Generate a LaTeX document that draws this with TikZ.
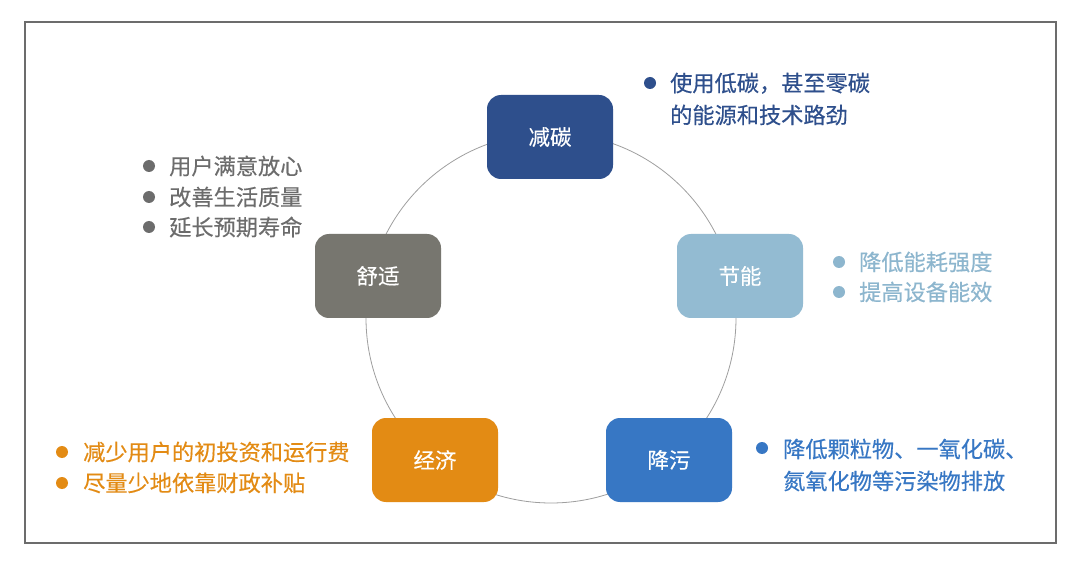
\documentclass[tikz,border=0pt]{standalone}
\usepackage{fontspec}
\setmainfont[FakeBold=0.35]{Noto Sans CJK SC}
\definecolor{cDark}{HTML}{2E4F8C}
\definecolor{cLight}{HTML}{93BBD2}
\definecolor{cLightT}{HTML}{8DB6CE}
\definecolor{cMid}{HTML}{3777C4}
\definecolor{cOrange}{HTML}{E38B14}
\definecolor{cGray}{HTML}{77766F}
\definecolor{cGrayT}{HTML}{6C6C6C}
\tikzset{
  box/.style={rounded corners=14pt, minimum width=126pt, minimum height=84pt, inner sep=0pt,
    text=white, font=\fontsize{21.5}{26}\selectfont},
  lbl/.style={anchor=west, inner sep=0pt, align=left, font=\fontsize{22.2}{32}\selectfont},
  dot/.style={circle, inner sep=0pt, minimum size=12pt},
}
\begin{document}
\begin{tikzpicture}[x=1pt,y=-1pt]
\useasboundingbox (0,0) rectangle (1080,572);
\fill[white] (0,0) rectangle (1080,572);
\draw[line width=1.5pt, draw=gray!85!black] (25,22) rectangle (1056,543);
\draw[line width=0.8pt, draw=gray!75] (551,318) circle (185);
% nodes
\node[box, fill=cDark]   (jt) at (550,137) {减碳};
\node[box, fill=cLight]  (jn) at (740,276) {节能};
\node[box, fill=cMid]    (jw) at (669,460) {降污};
\node[box, fill=cOrange] (jj) at (435,460) {经济};
\node[box, fill=cGray]   (ss) at (378,276) {舒适};
% 减碳 text
\node[dot, fill=cDark] (d1) at (650,83) {};
\node[lbl, text=cDark] (t1) at (670,99) {使用低碳，甚至零碳\\的能源和技术路劲};
% 节能 text
\node[dot, fill=cLightT] (d2a) at (839,262) {};
\node[dot, fill=cLightT] (d2b) at (839,292) {};
\node[lbl, text=cLightT] (t2a) at (859,262) {降低能耗强度};
\node[lbl, text=cLightT] (t2b) at (859,292) {提高设备能效};
% 降污 text
\node[dot, fill=cMid] (d3) at (762,448) {};
\node[lbl, text=cMid] (t3) at (783,465) {降低颗粒物、一氧化碳、\\氮氧化物等污染物排放};
% 经济 text
\node[dot, fill=cOrange] (d4a) at (62,452) {};
\node[dot, fill=cOrange] (d4b) at (62,483) {};
\node[lbl, text=cOrange] (t4a) at (83,452) {减少用户的初投资和运行费};
\node[lbl, text=cOrange] (t4b) at (83,483) {尽量少地依靠财政补贴};
% 舒适 text
\node[dot, fill=cGrayT] (d5a) at (149,166) {};
\node[dot, fill=cGrayT] (d5b) at (149,197) {};
\node[dot, fill=cGrayT] (d5c) at (149,227) {};
\node[lbl, text=cGrayT] (t5a) at (169,166) {用户满意放心};
\node[lbl, text=cGrayT] (t5b) at (169,197) {改善生活质量};
\node[lbl, text=cGrayT] (t5c) at (169,227) {延长预期寿命};
\end{tikzpicture}
\end{document}
